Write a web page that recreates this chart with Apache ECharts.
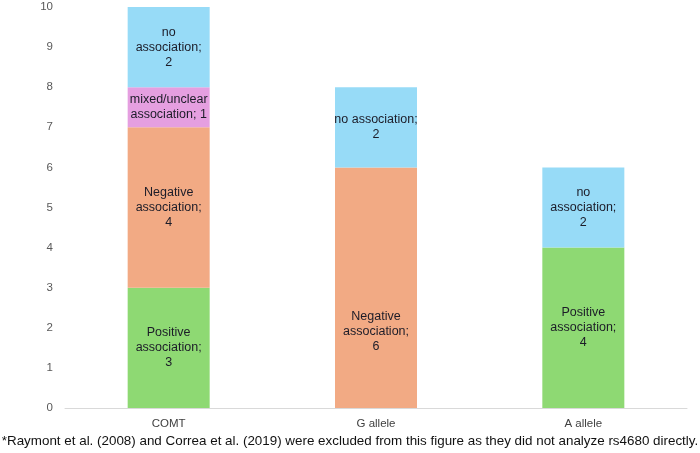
<!DOCTYPE html>
<html>
<head>
<meta charset="utf-8">
<script src="https://cdn.jsdelivr.net/npm/echarts@6/dist/echarts.min.js"></script>
<style>
  html, body { margin: 0; padding: 0; background: #fff; }
  #chart { width: 700px; height: 453px; }
</style>
</head>
<body>
<div id="chart"></div>
<script>
var categories = ['COMT', 'G allele', 'A allele'];
var positive = [3, null, 4];
var negative = [4, 6, null];
var mixed = [1, null, null];
var noAssoc = [2, 2, 2];

var positiveLabels = ['Positive\nassociation;\n3', '', 'Positive\nassociation;\n4'];
var negativeLabels = ['Negative\nassociation;\n4', 'Negative\nassociation;\n6', ''];
var mixedLabels = ['mixed/unclear\nassociation; 1', '', ''];
var noAssocLabels = ['no\nassociation;\n2', 'no association;\n2', 'no\nassociation;\n2'];

var footnote = '*Raymont et al. (2008) and Correa et al. (2019) were excluded from this figure as they did not analyze rs4680 directly.';

var chart = echarts.init(document.getElementById('chart'));

function makeSeries(name, values, texts, color, offsets) {
    return {
        name: name,
        type: 'bar',
        stack: 'total',
        barWidth: 82,
        itemStyle: { color: color },
        label: {
            show: true,
            position: 'inside',
            color: '#1c1c28',
            fontSize: 12.5,
            lineHeight: 15,
            fontFamily: 'Liberation Sans, Arial, sans-serif',
            formatter: function (p) { return texts[p.dataIndex]; }
        },
        data: values.map(function (v, i) {
            var item = { value: v };
            if (offsets && offsets[i]) item.label = { offset: offsets[i] };
            return item;
        })
    };
}

var option = {
    animation: false,
    grid: { left: 65, right: 13, top: 7, bottom: 45, containLabel: false },
    xAxis: {
        type: 'category',
        data: categories,
        axisLine: { lineStyle: { color: '#d9d9d9', width: 1 } },
        axisTick: { show: false },
        axisLabel: {
            color: '#404040',
            fontSize: 11.5,
            margin: 10,
            fontFamily: 'Liberation Sans, Arial, sans-serif'
        }
    },
    yAxis: {
        type: 'value',
        min: 0,
        max: 10,
        interval: 1,
        axisLine: { show: false },
        axisTick: { show: false },
        splitLine: { show: false },
        axisLabel: {
            color: '#595959',
            fontSize: 11.5,
            margin: 12,
            fontFamily: 'Liberation Sans, Arial, sans-serif'
        }
    },
    graphic: [{
        type: 'text',
        left: 'center',
        top: 435,
        style: {
            text: footnote,
            fill: '#111',
            fontSize: 13.4,
            fontFamily: 'Liberation Sans, Arial, sans-serif'
        }
    }],
    series: [
        makeSeries('Positive association', positive, positiveLabels, '#8ed973'),
        makeSeries('Negative association', negative, negativeLabels, '#f2aa84', [null, [0, 44], null]),
        makeSeries('Mixed/unclear association', mixed, mixedLabels, '#e59fe0'),
        makeSeries('No association', noAssoc, noAssocLabels, '#97dbf7')
    ]
};

chart.setOption(option);
</script>
</body>
</html>
